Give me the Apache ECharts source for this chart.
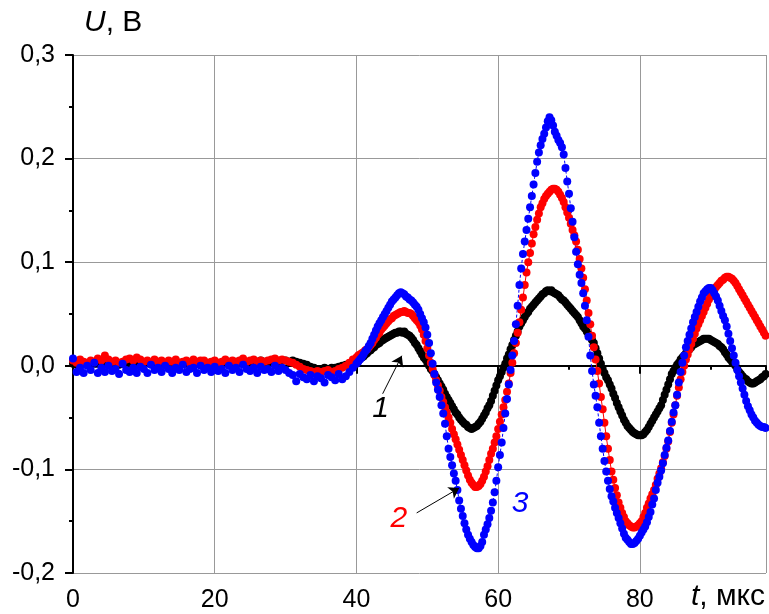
<!DOCTYPE html>
<html>
<head>
<meta charset="utf-8">
<script src="https://cdn.jsdelivr.net/npm/echarts@6/dist/echarts.min.js"></script>
<style>
  html, body { margin: 0; padding: 0; background: #fff; }
  #chart { width: 769px; height: 614px; }
</style>
</head>
<body>
<div id="chart"></div>
<script>
// sampling: 0 .. 39.5 us every 0.5 us, then 40 .. 97.75 us every 0.25 us
const flatStep = 0.5
const waveStart = 40
const waveStep = 0.25

// curve 1 (black), mV
const u1Flat = [
  2,1,3,2,1,3,2,2,1,3, 2,3,2,1,2,3,2,2,3,2,
  2,3,2,1,2,3,2,2,3,2, 3,2,2,3,4,3,2,3,2,3,
  3,2,3,4,3,3,4,3,2,3, 4,3,4,5,4,3,4,5,4,5,
  5,4,5,4,3,2,1,-1,-2,-3, -3,-2,-3,-2,-2,-1,0,1,2,4
]
const u1Wave = [
  4,5,7,8, 9,11,12,14, 15,17,18,20, 21,22,24,25, 26,27,28,29,
  30,31,32,32, 33,33,32,33, 31,30,29,27, 25,22,20,17, 14,11,8,6,
  3,0,-3,-5, -8,-11,-14,-17, -20,-23,-27,-30, -33,-36,-39,-42, -45,-47,-50,-52,
  -54,-56,-57,-59, -60,-61,-60,-59, -58,-56,-54,-51, -48,-45,-41,-38, -34,-29,-24,-19,
  -14,-10,-6,-2, 2,7,11,16, 20,25,29,33, 38,41,44,47, 50,52,55,57,
  59,61,63,65, 67,69,70,72, 73,72,73,71, 70,69,68,66, 64,63,61,59,
  57,55,53,51, 49,47,44,41, 38,36,33,30, 28,25,22,17, 12,7,2,-3,
  -7,-11,-14,-18, -22,-27,-31,-36, -40,-44,-48,-52, -55,-58,-60,-62, -64,-65,-66,-67,
  -67,-67,-66,-64, -62,-59,-56,-53, -50,-47,-44,-41, -38,-33,-28,-23, -18,-13,-8,-5,
  -2,1,3,6, 8,10,12,14, 16,18,20,21, 22,23,24,25, 26,26,26,26,
  25,24,23,22, 21,19,18,16, 13,11,8,6, 4,2,0,-3, -6,-8,-10,-12,
  -13,-15,-16,-17, -17,-16,-15,-14, -13,-11,-10,-8
]

// curve 2 (red), mV
const u2Flat = [
  5,3,6,4,3,5,4,7,5,10, 6,4,5,3,4,6,7,5,8,6,
  4,5,3,6,4,5,3,5,4,6, 3,4,5,3,6,4,5,5,3,4,
  5,3,4,6,4,5,3,5,7,4, 5,6,4,5,4,5,6,7,5,6,
  5,4,3,1,-1,-3,-4,-5,-6,-5, -6,-5,-4,-6,-5,-3,-2,0,3,6
]
const u2Wave = [
  8,10,11,12, 13,15,16,18, 20,22,25,27, 30,32,35,37, 39,41,43,45,
  46,48,49,50, 51,52,52,53, 52,51,51,50, 48,46,44,42, 39,35,30,24,
  17,10,3,-3, -9,-14,-19,-24, -30,-35,-40,-45, -50,-55,-61,-66, -71,-76,-81,-86,
  -91,-96,-101,-106, -110,-113,-115,-117, -117,-116,-114,-111, -107,-102,-97,-91, -85,-80,-74,-68,
  -61,-54,-47,-40, -33,-25,-17,-7, 3,12,22,32, 42,54,66,78, 90,100,109,118,
  127,134,141,147, 153,157,161,164, 166,168,170,171, 171,170,168,165, 162,158,153,148,
  143,137,131,126, 120,112,103,94, 85,74,63,51, 40,29,18,6, -5,-17,-30,-42,
  -55,-68,-80,-91, -102,-110,-118,-125, -132,-137,-142,-146, -150,-152,-154,-155, -156,-156,-155,-154,
  -152,-150,-146,-142, -137,-133,-128,-124, -120,-115,-109,-104, -99,-93,-87,-80, -73,-64,-55,-47,
  -38,-29,-21,-13, -6,0,6,11, 16,21,26,31, 36,40,44,48, 52,56,60,64,
  67,70,73,76, 78,80,82,83, 85,86,86,85, 84,82,80,77, 74,71,68,65,
  62,59,56,53, 50,47,44,41, 38,35,32,29
]

// curve 3 (blue), mV
const u3Flat = [
  7,-6,-2,-7,0,-4,3,-7,-2,-6, 0,-5,-3,-8,2,-4,-6,-2,-7,-1,
  -3,-7,1,-4,-2,-6,0,-3,-7,-2, -4,1,-6,-3,-2,-7,0,-4,-2,-6,
  -1,-5,-3,-7,0,-4,-2,-6,1,-3, -5,-2,-7,-1,-4,-3,-6,0,-5,-2,
  -4,-7,-9,-15,-8,-11,-13,-9,-15,-10, -12,-16,-9,-11,-14,-8,-13,-10,-6,-2
]
const u3Wave = [
  2,4,6,8, 11,14,16,19, 22,26,30,34, 38,41,44,47, 50,53,56,59,
  62,64,66,68, 70,71,70,69, 67,66,64,63, 61,59,57,54, 50,46,42,37,
  30,22,12,2, -8,-16,-23,-30, -38,-46,-56,-68, -80,-88,-96,-104, -111,-120,-130,-138,
  -145,-152,-158,-163, -167,-170,-173,-175, -176,-176,-174,-170, -163,-158,-153,-147, -140,-132,-122,-111,
  -98,-86,-74,-60, -46,-32,-18,-4, 10,24,40,58, 78,94,108,120, 131,142,153,164,
  175,186,197,206, 213,219,224,230, 236,240,237,232, 226,222,218,215, 211,204,191,178,
  166,152,139,124, 110,98,88,80, 70,58,44,28, 10,-5,-18,-29, -40,-55,-68,-80,
  -92,-102,-111,-119, -126,-131,-137,-142, -147,-152,-157,-162, -166,-168,-170,-172, -172,-171,-169,-167,
  -164,-161,-158,-155, -151,-146,-141,-134, -128,-120,-113,-107, -101,-94,-86,-79, -72,-63,-54,-45,
  -38,-28,-16,-6, 3,10,18,24, 30,36,42,47, 52,57,62,66, 70,72,74,75,
  75,73,70,67, 63,58,53,48, 44,38,31,24, 17,10,3,-4, -10,-16,-22,-28,
  -34,-39,-43,-47, -50,-53,-55,-57, -58,-59,-59,-60
]

const xTicks = [0, 20, 40, 60, 80]
const yTicks = [-0.2, -0.1, 0.0, 0.1, 0.2, 0.3]

const font = "'Liberation Sans', Arial, sans-serif"

function toPoints(flat, wave) {
  let pts = []
  flat.forEach((mv, i) => pts.push([i * flatStep, mv / 1000]))
  wave.forEach((mv, i) => pts.push([waveStart + i * waveStep, mv / 1000]))
  return pts
}

function curve(name, color, flat, wave, extra) {
  return Object.assign({
    name: name,
    type: 'line',
    data: toPoints(flat, wave),
    symbol: 'circle',
    symbolSize: 8,
    showAllSymbol: true,
    itemStyle: { color: color, borderWidth: 0 },
    lineStyle: { color: color, width: 1 },
    silent: true
  }, extra || {})
}

let chart = echarts.init(document.getElementById('chart'))
chart.setOption({
  animation: false,
  backgroundColor: '#fff',
  grid: { left: 73, right: 0, top: 55, bottom: 41 },
  xAxis: {
    type: 'value',
    min: 0,
    max: 97.8,
    interval: 20,
    axisLine: { show: true, lineStyle: { color: '#000', width: 2 } },
    axisTick: { show: true, length: 8, lineStyle: { color: '#000', width: 2 } },
    minorTick: { show: true, splitNumber: 2, length: 4, lineStyle: { color: '#000', width: 2 } },
    splitLine: { show: true, lineStyle: { color: '#999', width: 1 } },
    axisLabel: {
      margin: 15, fontSize: 25, color: '#000', fontFamily: font,
      formatter: v => xTicks.includes(v) ? String(v) : ''
    }
  },
  yAxis: {
    type: 'value',
    min: -0.2,
    max: 0.3,
    interval: 0.1,
    axisLine: { show: true, lineStyle: { color: '#000', width: 2 } },
    axisTick: { show: true, length: 8, lineStyle: { color: '#000', width: 2 } },
    minorTick: { show: true, splitNumber: 2, length: 4, lineStyle: { color: '#000', width: 2 } },
    splitLine: { show: true, lineStyle: { color: '#999', width: 1 } },
    axisLabel: {
      margin: 18, fontSize: 25, color: '#000', fontFamily: font,
      formatter: v => {
        let tick = yTicks.find(t => Math.abs(t - v) < 1e-9)
        return tick === undefined ? '' : tick.toFixed(1).replace('.', ',')
      }
    }
  },
  graphic: [
    {
      type: 'text', left: 84, top: 8,
      style: {
        text: '{i|U}, В', fill: '#000', font: '30px ' + font,
        rich: { i: { fontStyle: 'italic', fontSize: 30, fontFamily: font } }
      }
    },
    {
      type: 'text', right: 4, top: 582,
      style: {
        text: '{i|t}, мкс', fill: '#000', font: '30px ' + font,
        rich: { i: { fontStyle: 'italic', fontSize: 30, fontFamily: font } }
      }
    }
  ],
  series: [
    curve('1', '#000000', u1Flat, u1Wave, {
      markLine: {
        silent: true, symbol: ['none', 'arrow'], symbolSize: 10,
        lineStyle: { color: '#000', width: 1, type: 'solid' },
        label: { show: false },
        data: [[{ coord: [43.7, -0.027] }, { coord: [46.4, 0.0097] }]]
      },
      markPoint: {
        symbol: 'circle', symbolSize: 0,
        label: { show: true, formatter: '1', color: '#000', fontSize: 30, fontStyle: 'italic', fontFamily: font },
        data: [{ coord: [43.4, -0.0415] }]
      }
    }),
    curve('2', '#ff0000', u2Flat, u2Wave, {
      markLine: {
        silent: true, symbol: ['none', 'arrow'], symbolSize: 10,
        lineStyle: { color: '#000', width: 1, type: 'solid' },
        label: { show: false },
        data: [[{ coord: [48.5, -0.142] }, { coord: [54.5, -0.118] }]]
      },
      markPoint: {
        symbol: 'circle', symbolSize: 0,
        label: { show: true, formatter: '2', color: '#ff0000', fontSize: 30, fontStyle: 'italic', fontFamily: font },
        data: [{ coord: [46.0, -0.148] }]
      }
    }),
    curve('3', '#0000ff', u3Flat, u3Wave, {
      lineStyle: { color: '#0000ff', width: 1, type: [3, 2] },
      markPoint: {
        symbol: 'circle', symbolSize: 0,
        label: { show: true, formatter: '3', color: '#0000ff', fontSize: 30, fontStyle: 'italic', fontFamily: font },
        data: [{ coord: [63.1, -0.133] }]
      }
    })
  ]
})
</script>
</body>
</html>
